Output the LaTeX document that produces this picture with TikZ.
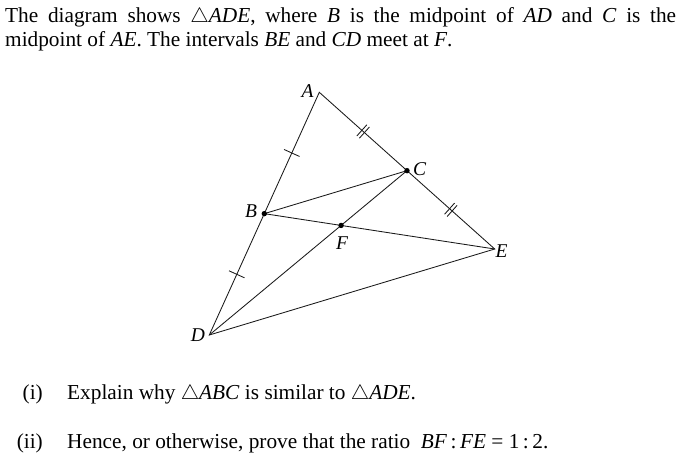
\documentclass[tikz,border=0pt]{standalone}
\usepackage{fontspec}
\setmainfont{Liberation Serif}
\usetikzlibrary{calc,decorations.markings}
\tikzset{
  edge/.style={draw=black!90, line width=0.85pt},
  ptdot/.style={circle, fill=black, inner sep=0pt, minimum size=5.4pt},
  vlabel/.style={inner sep=0pt, font=\fontsize{19.5}{21}\selectfont\itshape},
  txt/.style={inner sep=0pt, font=\fontsize{21.3}{24}\selectfont},
  onetick/.style={decorate, decoration={markings, mark=at position 0.5 with {\draw[black!90, line width=0.85pt] (0,-8.5pt) -- (0,8.5pt);}}},
  twotick/.style={decorate, decoration={markings, mark=at position 0.5 with {\draw[black!90, line width=0.85pt] (-1.7pt,-7.5pt) -- (-1.7pt,7.5pt) (1.7pt,-7.5pt) -- (1.7pt,7.5pt);}}}
}
\newcommand{\tri}{\ensuremath{\triangle}}
\begin{document}
\begin{tikzpicture}[x=1pt, y=-1pt]
\useasboundingbox (0,0) rectangle (682,463);
% text
\node[txt, anchor=base west] (t1) at (5,22) {\makebox[671pt][s]{The diagram shows \tri\textit{ADE}, where \textit{B} is the midpoint of \textit{AD} and \textit{C} is the}};
\node[txt, anchor=base west] (t2) at (5,46) {midpoint of \textit{AE}. The intervals \textit{BE} and \textit{CD} meet at \textit{F}.};
\node[txt, anchor=base east] (i1) at (43,399) {(i)};
\node[txt, anchor=base west] (q1) at (67,399) {Explain why \tri\textit{ABC} is similar to \tri\textit{ADE}.};
\node[txt, anchor=base east] (i2) at (43,448) {(ii)};
\node[txt, anchor=base west] (q2) at (67,448) {Hence, or otherwise, prove that the ratio\ \ \textit{BF}\,:\,\textit{FE} = 1\,:\,2.};
% geometry
\coordinate (A) at (319.3,92.3);
\coordinate (D) at (209.3,335);
\coordinate (E) at (494.7,249);
\coordinate (B) at ($(A)!0.5!(D)$);
\coordinate (C) at ($(A)!0.5!(E)$);
\coordinate (F) at ($(B)!1/3!(E)$);
\draw[edge] (A) -- (D) -- (E) -- cycle;
\draw[edge] (B) -- (C);
\draw[edge] (B) -- (E);
\draw[edge] (C) -- (D);
\path[onetick] (A) -- (B);
\path[onetick] (B) -- (D);
\path[twotick] (A) -- (C);
\path[twotick] (C) -- (E);
\node[ptdot] (dB) at (B) {};
\node[ptdot] (dC) at (C) {};
\node[ptdot] (dF) at (F) {};
% labels
\node[vlabel] (lA) at (307.5,91) {A};
\node[vlabel] (lB) at (251,211) {B};
\node[vlabel] (lC) at (419.5,169) {C};
\node[vlabel] (lE) at (501.5,251.5) {E};
\node[vlabel] (lF) at (342,243) {F};
\node[vlabel] (lD) at (198,335) {D};
\end{tikzpicture}
\end{document}
